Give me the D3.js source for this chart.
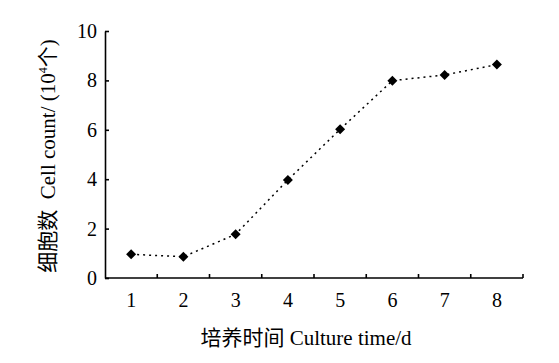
<!DOCTYPE html>
<html>
<head>
<meta charset="utf-8">
<script src="https://cdn.jsdelivr.net/npm/d3@7"></script>
<style>
  body { margin: 0; background: #fff; }
  svg text { font-family: "Liberation Serif", "Noto Sans CJK SC", serif; fill: #000; }
</style>
</head>
<body>
<div id="chart"></div>
<script>
// Data
const days = ['1', '2', '3', '4', '5', '6', '7', '8']
const cellCount = [0.96, 0.86, 1.77, 3.97, 6.02, 7.99, 8.22, 8.64]
const yTicks = [0, 2, 4, 6, 8, 10]

function draw() {
	let dimensions = {
		width: 559,
		height: 363,
		margin: { top: 31, bottom: 85, left: 105, right: 36 }
	}
	dimensions.ctrWidth = dimensions.width - dimensions.margin.left - dimensions.margin.right
	dimensions.ctrHeight = dimensions.height - dimensions.margin.top - dimensions.margin.bottom

	const svg = d3.select('#chart')
		.append('svg')
		.attr('width', dimensions.width)
		.attr('height', dimensions.height)

	const ctr = svg.append('g')
		.attr('transform', `translate(${dimensions.margin.left}, ${dimensions.margin.top})`)

	// Scales
	const xScale = d3.scaleBand()
		.domain(days)
		.range([0, dimensions.ctrWidth])

	const yScale = d3.scaleLinear()
		.domain([0, 10])
		.range([dimensions.ctrHeight, 0])

	// Y axis, ticks pointing inward
	const yAxis = d3.axisLeft(yScale)
		.tickValues(yTicks)
		.tickSize(-4)
		.tickSizeOuter(0)
		.tickPadding(8)

	const yG = ctr.append('g').call(yAxis)
	yG.attr('font-family', null)
	yG.select('.domain').attr('stroke-width', 1.6)
	yG.selectAll('.tick line').attr('stroke-width', 1.6)
	yG.selectAll('.tick text').attr('font-size', 20)

	// X axis: ticks at band boundaries, labels at band centres
	const xG = ctr.append('g')
		.attr('transform', `translate(0, ${dimensions.ctrHeight})`)
	xG.append('line')
		.attr('x1', 0)
		.attr('x2', dimensions.ctrWidth)
		.attr('stroke', '#000')
		.attr('stroke-width', 1.6)
	xG.selectAll('.xtick')
		.data(days)
		.join('line')
		.attr('class', 'xtick')
		.attr('x1', d => xScale(d) + xScale.bandwidth())
		.attr('x2', d => xScale(d) + xScale.bandwidth())
		.attr('y1', 0)
		.attr('y2', -4)
		.attr('stroke', '#000')
		.attr('stroke-width', 1.6)
	xG.selectAll('.xlabel')
		.data(days)
		.join('text')
		.attr('class', 'xlabel')
		.attr('x', d => xScale(d) + xScale.bandwidth() / 2)
		.attr('y', 29)
		.attr('text-anchor', 'middle')
		.attr('font-size', 20)
		.text(d => d)

	// Line
	const line = d3.line()
		.x((d, i) => xScale(days[i]) + xScale.bandwidth() / 2)
		.y(d => yScale(d))

	ctr.append('path')
		.datum(cellCount)
		.attr('d', line)
		.attr('fill', 'none')
		.attr('stroke', '#000')
		.attr('stroke-width', 1.5)
		.attr('stroke-dasharray', '2,4')

	// Markers
	ctr.selectAll('.pt')
		.data(cellCount)
		.join('path')
		.attr('class', 'pt')
		.attr('d', d3.symbol(d3.symbolDiamond2, 64))
		.attr('transform', (d, i) => `translate(${xScale(days[i]) + xScale.bandwidth() / 2}, ${yScale(d)})`)
		.attr('fill', '#000')

	// Axis titles
	svg.append('text')
		.attr('x', 306)
		.attr('y', 345)
		.attr('text-anchor', 'middle')
		.attr('font-size', 21)
		.text('培养时间 Culture time/d')

	const yt = svg.append('text')
		.attr('transform', 'translate(55, 156) rotate(-90)')
		.attr('text-anchor', 'middle')
		.attr('font-size', 21)
		.style('white-space', 'pre')
	yt.append('tspan').text('细胞数  Cell count/ (10')
	yt.append('tspan').attr('font-size', 12).attr('dy', -8).text('4')
	yt.append('tspan').attr('dy', 8).text('个)')
}

draw()
</script>
</body>
</html>
